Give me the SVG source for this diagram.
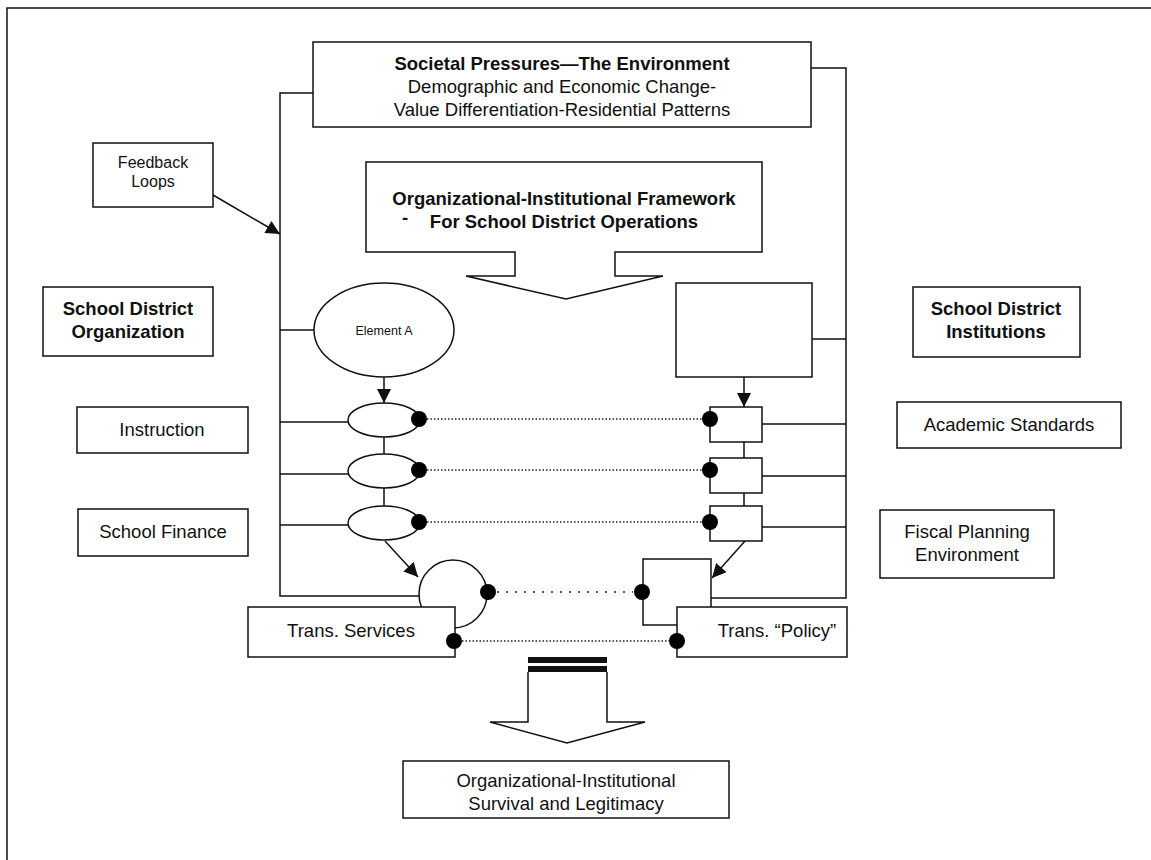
<svg xmlns="http://www.w3.org/2000/svg" width="1151" height="860" viewBox="0 0 1151 860">
<style>
.b{fill:#fff;stroke:#111;stroke-width:1.5}
.l{fill:none;stroke:#111;stroke-width:1.5}
.dt{fill:none;stroke:#222;stroke-width:1.3;stroke-dasharray:1.5 2}
.ds{fill:none;stroke:#222;stroke-width:1.3;stroke-dasharray:2 7}
.dot{fill:#000}
text{font-family:"Liberation Sans",Arial,sans-serif;fill:#111;text-anchor:middle}
.t{font-size:18.5px}
.tb{font-size:18.5px;font-weight:bold}
.ts{font-size:16px}
.tx{font-size:12.5px}
</style>
<defs>
<marker id="ah" viewBox="0 0 10 10" refX="10" refY="5" markerWidth="16" markerHeight="14" markerUnits="userSpaceOnUse" orient="auto"><path d="M0,0 L10,5 L0,10 z" fill="#111"/></marker>
</defs>
<path class="l" d="M7,860 V8 H1151"/>
<g id="connectors">
<path class="l" d="M313,93 H280 V596 H419"/>
<path class="l" d="M811,68 H846 V598 H711"/>
<line class="l" x1="213" y1="195" x2="280" y2="234" marker-end="url(#ah)"/>
<line class="l" x1="280" y1="330" x2="314" y2="330"/>
<line class="l" x1="384" y1="377" x2="384" y2="403" marker-end="url(#ah)"/>
<line class="l" x1="812" y1="339" x2="846" y2="339"/>
<line class="l" x1="744" y1="377" x2="744" y2="407" marker-end="url(#ah)"/>
<line class="l" x1="280" y1="422" x2="348" y2="422"/>
<line class="l" x1="280" y1="474" x2="348" y2="474"/>
<line class="l" x1="280" y1="525" x2="348" y2="525"/>
<line class="l" x1="384" y1="437" x2="384" y2="454"/>
<line class="l" x1="384" y1="488" x2="384" y2="506"/>
<line class="l" x1="762" y1="424" x2="846" y2="424"/>
<line class="l" x1="762" y1="476" x2="846" y2="476"/>
<line class="l" x1="762" y1="527" x2="846" y2="527"/>
<line class="l" x1="744" y1="442" x2="744" y2="458"/>
<line class="l" x1="744" y1="493" x2="744" y2="506"/>
<line class="dt" x1="427" y1="419" x2="702" y2="419"/>
<line class="dt" x1="427" y1="470" x2="702" y2="470"/>
<line class="dt" x1="427" y1="522" x2="702" y2="522"/>
<line class="l" x1="385" y1="541" x2="418" y2="577" marker-end="url(#ah)"/>
<line class="l" x1="745" y1="541" x2="712" y2="578" marker-end="url(#ah)"/>
<line class="ds" x1="497" y1="592" x2="633" y2="592"/>
<line class="dt" x1="462" y1="641" x2="669" y2="641"/>
</g>
<g id="societal">
<rect class="b" x="313" y="42" width="498" height="85"/>
<text class="tb" x="562" y="70">Societal Pressures—The Environment</text>
<text class="t" x="562" y="93">Demographic and Economic Change-</text>
<text class="t" x="562" y="116">Value Differentiation-Residential Patterns</text>
</g>
<g id="feedback">
<rect class="b" x="93" y="143" width="120" height="64"/>
<text class="ts" x="153" y="168">Feedback</text>
<text class="ts" x="153" y="187">Loops</text>
</g>
<g id="framework">
<path class="b" d="M366,162 H762 V252 H615 V276 H663 L566,299 L466,276 H515 V252 H366 Z"/>
<text class="tb" x="564" y="205">Organizational-Institutional Framework</text>
<text class="tb" x="564" y="228"><tspan x="405" dy="-4">-</tspan><tspan x="564" dy="4">For School District Operations</tspan></text>
</g>
<g id="sd-organization">
<rect class="b" x="43" y="287" width="170" height="69"/>
<text class="tb" x="128" y="315">School District</text>
<text class="tb" x="128" y="338">Organization</text>
</g>
<g id="sd-institutions">
<rect class="b" x="913" y="287" width="167" height="70"/>
<text class="tb" x="996" y="315">School District</text>
<text class="tb" x="996" y="338">Institutions</text>
</g>
<g id="element-a">
<ellipse class="b" cx="384" cy="330" rx="70" ry="47"/>
<text class="tx" x="384" y="335">Element A</text>
</g>
<g id="element-b">
<rect class="b" x="676" y="283" width="136" height="94"/>
</g>
<g id="org-elements">
<ellipse class="b" cx="384" cy="420" rx="36" ry="17"/>
<ellipse class="b" cx="384" cy="471" rx="36" ry="17"/>
<ellipse class="b" cx="384" cy="523" rx="36" ry="17"/>
<circle class="dot" cx="419" cy="419" r="8"/>
<circle class="dot" cx="419" cy="470" r="8"/>
<circle class="dot" cx="419" cy="522" r="8"/>
</g>
<g id="inst-elements">
<rect class="b" x="710" y="407" width="52" height="35"/>
<rect class="b" x="710" y="458" width="52" height="35"/>
<rect class="b" x="710" y="506" width="52" height="35"/>
<circle class="dot" cx="710" cy="419" r="8"/>
<circle class="dot" cx="710" cy="470" r="8"/>
<circle class="dot" cx="710" cy="522" r="8"/>
</g>
<g id="instruction">
<rect class="b" x="77" y="407" width="171" height="46"/>
<text class="t" x="162" y="436">Instruction</text>
</g>
<g id="school-finance">
<rect class="b" x="78" y="509" width="170" height="47"/>
<text class="t" x="163" y="538">School Finance</text>
</g>
<g id="academic-standards">
<rect class="b" x="897" y="402" width="224" height="46"/>
<text class="t" x="1009" y="431">Academic Standards</text>
</g>
<g id="fiscal-planning">
<rect class="b" x="880" y="510" width="174" height="68"/>
<text class="t" x="967" y="538">Fiscal Planning</text>
<text class="t" x="967" y="561">Environment</text>
</g>
<g id="services-circle">
<circle class="b" cx="453" cy="594" r="34"/>
<circle class="dot" cx="488" cy="592" r="8"/>
</g>
<g id="policy-square">
<rect class="b" x="643" y="559" width="68" height="66"/>
<circle class="dot" cx="642" cy="592" r="8"/>
</g>
<g id="trans-services">
<rect class="b" x="248" y="607" width="207" height="50"/>
<text class="t" x="351" y="637">Trans. Services</text>
<circle class="dot" cx="454" cy="641" r="8"/>
</g>
<g id="trans-policy">
<rect class="b" x="677" y="607" width="170" height="50"/>
<text class="t" x="777" y="637">Trans. “Policy”</text>
<circle class="dot" cx="677" cy="641" r="8"/>
</g>
<g id="outcome-arrow">
<rect x="528" y="657" width="79" height="6" fill="#111"/>
<rect x="528" y="666" width="79" height="6" fill="#111"/>
<path class="b" d="M528,672 V722 H490 L567,743 L645,722 H607 V672"/>
</g>
<g id="survival">
<rect class="b" x="403" y="761" width="326" height="57"/>
<text class="t" x="566" y="787">Organizational-Institutional</text>
<text class="t" x="566" y="810">Survival and Legitimacy</text>
</g>
</svg>
